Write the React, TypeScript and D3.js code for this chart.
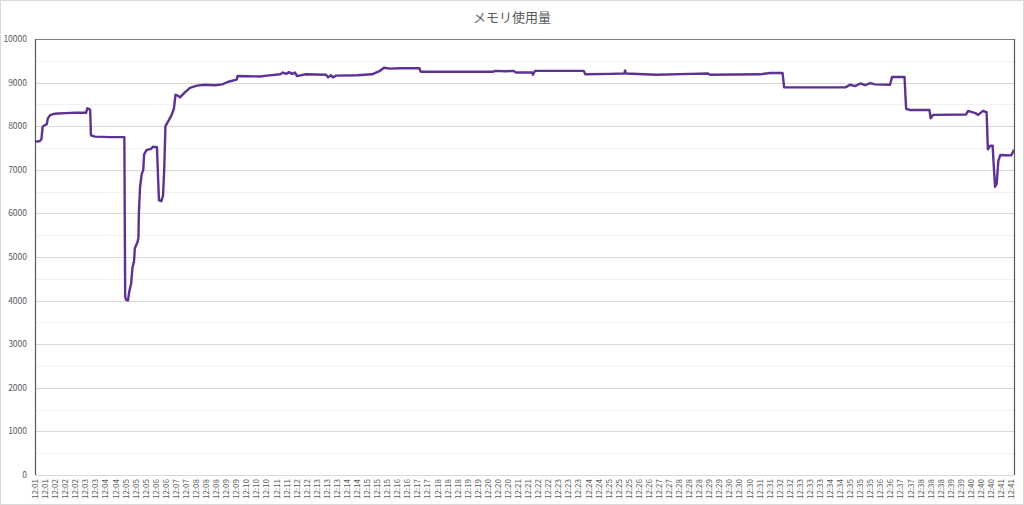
import React from "react";
import * as d3 from "d3";

const TITLE = "メモリ使用量";
const Y_TICKS = [0, 1000, 2000, 3000, 4000, 5000, 6000, 7000, 8000, 9000, 10000];
const MINUTE_COUNTS: [string, number][] = [
  ["12:01", 2], ["12:02", 3], ["12:03", 2], ["12:04", 2], ["12:05", 3], ["12:06", 2], ["12:07", 2], ["12:08", 3], ["12:09", 2], ["12:10", 3],
  ["12:11", 2], ["12:12", 2], ["12:13", 3], ["12:14", 2], ["12:15", 3], ["12:16", 2], ["12:17", 2], ["12:18", 3], ["12:19", 2], ["12:20", 3],
  ["12:21", 2], ["12:22", 2], ["12:23", 3], ["12:24", 2], ["12:25", 3], ["12:26", 2], ["12:27", 2], ["12:28", 3], ["12:29", 2], ["12:30", 3],
  ["12:31", 2], ["12:32", 2], ["12:33", 3], ["12:34", 2], ["12:35", 3], ["12:36", 2], ["12:37", 2], ["12:38", 3], ["12:39", 2], ["12:40", 3],
  ["12:41", 2],
];
const X_LABELS: string[] = MINUTE_COUNTS.flatMap(([m, n]) => Array(n).fill(m));
const LABEL_STEP = 25; // seconds between category labels
const T_MAX = 2432;

// elapsed seconds
const TIMES = [
  0, 12, 16, 19, 25, 29, 32, 37, 45, 57, 77, 99, 127, 130, 137, 139, 149, 186, 222, 224,
  226, 231, 234, 239, 242, 246, 248, 255, 257, 258, 261, 265, 269, 271, 277, 288, 293, 303, 306, 308,
  314, 318, 321, 324, 330, 339, 345, 349, 355, 360, 373, 385, 402, 422, 447, 465, 480, 501, 503, 559,
  576, 609, 616, 624, 631, 639, 646, 651, 671, 723, 728, 735, 740, 748, 800, 837, 857, 867, 882, 907,
  955, 958, 1138, 1143, 1168, 1188, 1195, 1235, 1237, 1242, 1363, 1367, 1429, 1464, 1466, 1468, 1545, 1627, 1672, 1677,
  1801, 1826, 1857, 1861, 2013, 2025, 2037, 2050, 2062, 2075, 2087, 2124, 2129, 2160, 2164, 2174, 2222, 2225, 2231, 2313,
  2318, 2336, 2343, 2355, 2364, 2367, 2373, 2379, 2381, 2385, 2389, 2393, 2398, 2425, 2432,
];
// memory usage
const VALUES = [
  7640, 7660, 7700, 7990, 8030, 8040, 8180, 8250, 8280, 8290, 8300, 8310, 8310, 8410, 8380, 7790, 7760, 7750, 7750, 4100,
  4020, 4000, 4200, 4400, 4750, 4900, 5200, 5350, 5450, 6000, 6600, 6900, 7000, 7350, 7450, 7480, 7530, 7520, 6750, 6300,
  6280, 6400, 7000, 8000, 8100, 8250, 8400, 8720, 8700, 8660, 8780, 8880, 8930, 8950, 8940, 8960, 9020, 9070, 9150, 9140,
  9160, 9190, 9230, 9200, 9240, 9200, 9230, 9150, 9190, 9180, 9120, 9170, 9120, 9160, 9170, 9190, 9270, 9340, 9320, 9330,
  9330, 9250, 9250, 9270, 9260, 9270, 9230, 9230, 9180, 9270, 9270, 9190, 9200, 9210, 9280, 9210, 9180, 9200, 9210, 9180,
  9190, 9220, 9220, 8890, 8890, 8950, 8920, 8980, 8940, 8990, 8960, 8950, 9130, 9130, 8400, 8370, 8370, 8180, 8260, 8270,
  8350, 8300, 8260, 8350, 8320, 7470, 7550, 7550, 7200, 6610, 6680, 7200, 7340, 7330, 7460,
];

const W = 1024;
const H = 505;
const M = { left: 35, right: 1014, top: 39, bottom: 475 };
const FONT = "'Noto Sans CJK JP', 'Noto Sans', sans-serif";
const TEXT = "#595959";

export default function App() {
  const x = d3.scaleLinear().domain([0, T_MAX]).range([M.left, M.right]);
  const y = d3.scaleLinear().domain([0, 10000]).range([M.bottom, M.top]);
  const pts: [number, number][] = TIMES.map((t, i) => [t, VALUES[i]]);
  const line = d3
    .line<[number, number]>()
    .x((d) => x(d[0]))
    .y((d) => y(d[1]));
  const minor = d3.range(500, 10000, 1000);

  return (
    <svg
      width={W}
      height={H}
      style={{ position: "absolute", left: 0, top: 0, background: "#fff" }}
    >
      <rect x={0.5} y={0.5} width={W - 1} height={H - 1} fill="#fff" stroke="#d9d9d9" />
      <text x={W / 2} y={22} textAnchor="middle" fontFamily={FONT} fontSize={13} fill={TEXT}>
        {TITLE}
      </text>
      {minor.map((v) => (
        <line key={"m" + v} x1={M.left} x2={M.right} y1={Math.round(y(v)) + 0.5} y2={Math.round(y(v)) + 0.5} stroke="#f2f2f2" />
      ))}
      {Y_TICKS.map((v) => (
        <g key={v}>
          <line x1={M.left} x2={M.right} y1={Math.round(y(v)) + 0.5} y2={Math.round(y(v)) + 0.5} stroke="#d9d9d9" />
          <text x={27} y={y(v) + 3} textAnchor="end" fontFamily={FONT} fontSize={8.5} fill={TEXT}>
            {v}
          </text>
        </g>
      ))}
      <line x1={M.left} x2={M.right} y1={M.top + 0.5} y2={M.top + 0.5} stroke="#7f7f7f" strokeWidth={1.2} />
      <line x1={M.left + 0.5} x2={M.left + 0.5} y1={M.top} y2={M.bottom} stroke="#595959" strokeWidth={1.2} />
      <line x1={M.right + 0.5} x2={M.right + 0.5} y1={M.top} y2={M.bottom} stroke="#595959" strokeWidth={1.2} />
      {X_LABELS.map((lab, i) => {
        const px = x(i * LABEL_STEP);
        return (
          <text
            key={i}
            transform={`translate(${px + 3},${M.bottom + 4}) rotate(-90)`}
            textAnchor="end"
            fontFamily={FONT}
            fontSize={8}
            fill={TEXT}
          >
            {lab}
          </text>
        );
      })}
      <path d={line(pts) || ""} fill="none" stroke="#5E3292" strokeWidth={2.4} strokeLinejoin="round" />
    </svg>
  );
}
